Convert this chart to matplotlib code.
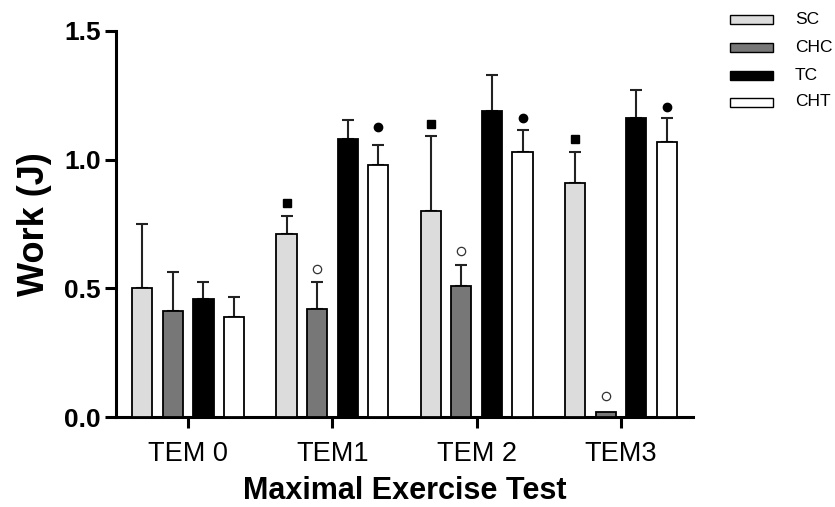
import matplotlib.pyplot as plt
import numpy as np
from matplotlib.patches import Rectangle

plt.rcParams['font.family'] = ['Liberation Sans', 'DejaVu Sans']

# data
tests = ['TEM 0', 'TEM1', 'TEM 2', 'TEM3']
groups = ['SC', 'CHC', 'TC', 'CHT']
means = {
    'SC':  [0.50, 0.71, 0.80, 0.91],
    'CHC': [0.41, 0.42, 0.51, 0.02],
    'TC':  [0.46, 1.08, 1.19, 1.16],
    'CHT': [0.39, 0.98, 1.03, 1.07],
}
sem = {
    'SC':  [0.25, 0.07, 0.29, 0.12],
    'CHC': [0.155, 0.105, 0.08, 0.0],
    'TC':  [0.065, 0.075, 0.14, 0.11],
    'CHT': [0.075, 0.075, 0.085, 0.09],
}
# significance symbols above bars (None = no mark)
marks = {
    'SC':  [None, 0.83, 1.14, 1.08],
    'CHC': [None, 0.575, 0.645, 0.08],
    'TC':  [None, None, None, None],
    'CHT': [None, 1.125, 1.16, 1.205],
}
colors = {'SC': '#dcdcdc', 'CHC': '#777777', 'TC': '#000000', 'CHT': '#ffffff'}
mark_style = {
    'SC': dict(marker='s', color='black', markersize=5.5),
    'CHC': dict(marker='o', markerfacecolor='white', markeredgecolor='#333333',
                markeredgewidth=0.9, markersize=6),
    'CHT': dict(marker='o', color='black', markersize=6),
}

W, H = 835, 507
fig = plt.figure(figsize=(W / 100, H / 100), dpi=100)
ax = fig.add_axes([0.139, 0.1775, 0.691, 0.7615])

x = np.arange(len(tests))
step = 0.212
width = 0.14
for i, g in enumerate(groups):
    xs = x + (i - 1.5) * step
    ax.bar(xs, means[g], width, color=colors[g], edgecolor='black',
           linewidth=1.3, zorder=3)
    err = np.array(sem[g])
    has = err > 0
    ax.errorbar(xs[has], np.array(means[g])[has],
                yerr=[np.zeros(has.sum()), err[has]], fmt='none',
                ecolor='#222222', elinewidth=1.5, capsize=4.5, capthick=1.5,
                zorder=2)
    if g in mark_style:
        for xi, m in zip(xs, marks[g]):
            if m is not None:
                ax.plot(xi, m, linestyle='none', zorder=4, **mark_style[g])

ax.set_xlim(-0.5, 3.5)
ax.set_ylim(0, 1.5)
ax.set_yticks([0.0, 0.5, 1.0, 1.5])
ax.set_yticklabels(['0.0', '0.5', '1.0', '1.5'], fontweight='bold', fontsize=19)
ax.set_xticks(x)
ax.set_xticklabels(tests, fontsize=19.5)
ax.spines['top'].set_visible(False)
ax.spines['right'].set_visible(False)
for s in ['left', 'bottom']:
    ax.spines[s].set_linewidth(2.2)
ax.tick_params(axis='both', width=2.2, length=8, direction='out')
ax.tick_params(axis='y', pad=3)
ax.tick_params(axis='x', pad=9)

ax.set_ylabel('Work (J)', fontsize=26, fontweight='bold', labelpad=9)
ax.set_xlabel('Maximal Exercise Test', fontsize=22, fontweight='bold', labelpad=7)

# legend drawn by hand in pixel positions, as in the original layout
row_y = [19, 47, 75, 102]
for g, ry in zip(groups, row_y):
    fig.add_artist(Rectangle((730 / W, 1 - (ry + 4.5) / H), 43 / W, 9 / H,
                             transform=fig.transFigure, facecolor=colors[g],
                             edgecolor='black', linewidth=1.0))
    fig.text(795 / W, 1 - ry / H, g, fontsize=12.5, va='center', ha='left')

fig.savefig('out.png', dpi=100)
